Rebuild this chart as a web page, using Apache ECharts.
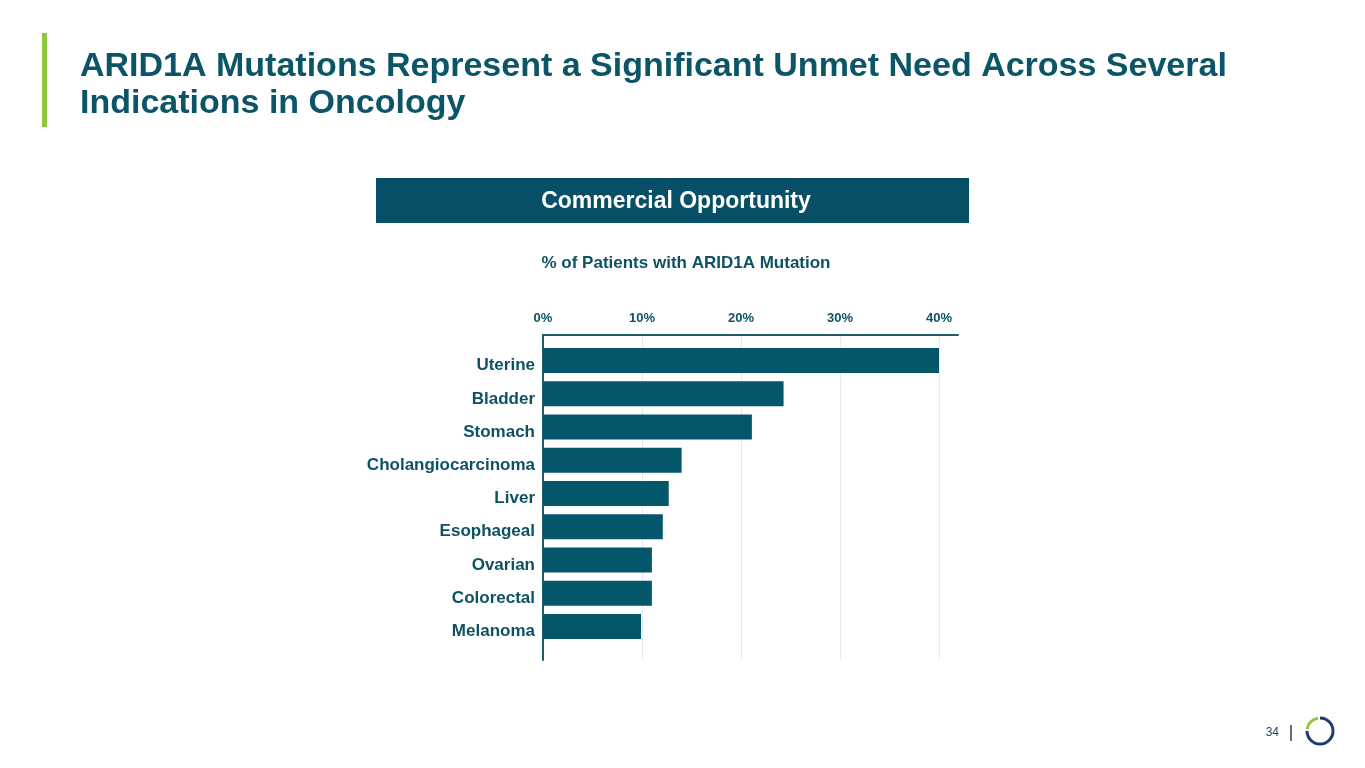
<!DOCTYPE html>
<html>
<head>
<meta charset="utf-8">
<script src="https://cdn.jsdelivr.net/npm/echarts@6/dist/echarts.min.js"></script>
<style>
html,body{margin:0;padding:0;background:#fff;}
#chart{width:1365px;height:768px;}
</style>
</head>
<body>
<div id="chart"></div>
<script>
const categories = ['Uterine','Bladder','Stomach','Cholangiocarcinoma','Liver','Esophageal','Ovarian','Colorectal','Melanoma'];
const values = [40, 24.3, 21.1, 14.0, 12.7, 12.1, 11.0, 11.0, 9.9];
const tickValues = [0, 10, 20, 30, 40];
const titleText = 'ARID1A Mutations Represent a Significant Unmet Need Across Several\nIndications in Oncology';
const headerText = 'Commercial Opportunity';
const subtitleText = '% of Patients with ARID1A Mutation';
const pageNumber = '34';

const FONT = '"Liberation Sans", Arial, sans-serif';
const TEAL = '#04566a';
const TEXT = '#0d5262';
const chart = echarts.init(document.getElementById('chart'));

const option = {
  animation: false,
  backgroundColor: '#ffffff',
  title: [
    {text: titleText, left: 75, top: 43,
     textStyle: {fontFamily: FONT, fontSize: 34, fontWeight: 'bold', color: '#0b5566', lineHeight: 37}},
    {text: subtitleText, left: 681, top: 250, textAlign: 'center',
     textStyle: {fontFamily: FONT, fontSize: 17, fontWeight: 'bold', color: TEXT}}
  ],
  grid: [
    {left: 543, top: 344, width: 396, height: 299, containLabel: false},
    {left: 543, top: 335, width: 396, height: 325, containLabel: false},
    {left: 543, top: 335, width: 415, height: 325, containLabel: false}
  ],
  xAxis: [
    {gridIndex: 0, type: 'value', min: tickValues[0], max: tickValues[tickValues.length-1], interval: 10,
     show: false},
    {gridIndex: 1, type: 'value', position: 'top', min: tickValues[0], max: tickValues[tickValues.length-1], interval: 10,
     axisLine: {show: false}, axisTick: {show: false},
     axisLabel: {formatter: '{value}%', margin: 10, fontFamily: FONT, fontSize: 13, fontWeight: 'bold', color: TEXT},
     splitLine: {show: true, lineStyle: {color: '#e3eced', width: 1}}},
    {gridIndex: 2, type: 'value', position: 'top', min: 0, max: 1,
     axisLine: {show: true, onZero: false, lineStyle: {color: '#1d5d6d', width: 2}}, axisTick: {show: false},
     axisLabel: {show: false}, splitLine: {show: false}}
  ],
  yAxis: [
    {gridIndex: 0, type: 'category', data: categories, inverse: true,
     axisLine: {show: false}, axisTick: {show: false},
     axisLabel: {margin: 8, verticalAlign: 'top', lineHeight: 10, fontFamily: FONT, fontSize: 17, fontWeight: 'bold', color: TEXT},
     splitLine: {show: false}},
    {gridIndex: 1, type: 'value', min: 0, max: 1,
     axisLine: {show: true, onZero: false, lineStyle: {color: '#1d5d6d', width: 2}}, axisTick: {show: false},
     axisLabel: {show: false}, splitLine: {show: false}},
    {gridIndex: 2, type: 'value', min: 0, max: 1, show: false}
  ],
  series: [
    {type: 'bar', xAxisIndex: 0, yAxisIndex: 0, data: values, barWidth: 25,
     itemStyle: {color: TEAL}, z: 5}
  ],
  graphic: [
    {type: 'rect', shape: {x: 42, y: 33, width: 5, height: 94}, style: {fill: '#8dc63f'}},
    {type: 'rect', shape: {x: 376, y: 178, width: 593, height: 45}, style: {fill: '#064f66'}},
    {type: 'text', x: 676, y: 202, style: {text: headerText, fill: '#ffffff', font: 'bold 23px ' + FONT,
      textAlign: 'center', textVerticalAlign: 'middle'}},
    {type: 'text', x: 1279, y: 733, style: {text: pageNumber, fill: '#2a3f5f', font: '12px ' + FONT,
      textAlign: 'right', textVerticalAlign: 'middle'}},
    {type: 'line', shape: {x1: 1291, y1: 725, x2: 1291, y2: 741}, style: {stroke: '#3b3b3b', lineWidth: 1.5}},
    {type: 'arc', shape: {cx: 1320, cy: 731, r: 13, startAngle: -Math.PI/2, endAngle: Math.PI, clockwise: true},
     style: {stroke: '#1f3b6e', lineWidth: 3, fill: null}},
    {type: 'arc', shape: {cx: 1320, cy: 731, r: 13, startAngle: Math.PI*1.05, endAngle: Math.PI*1.45, clockwise: true},
     style: {stroke: '#8dc63f', lineWidth: 3, fill: null}}
  ]
};
chart.setOption(option);
</script>
</body>
</html>
